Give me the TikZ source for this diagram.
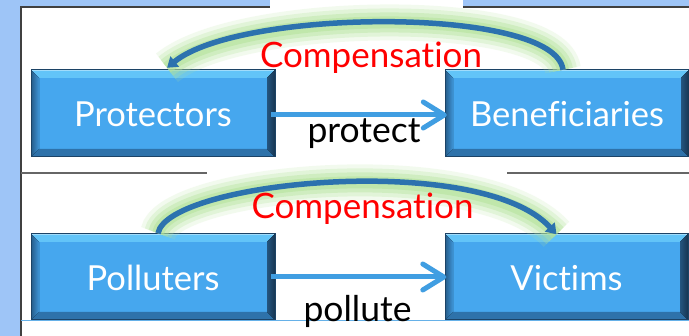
\documentclass[tikz,border=0pt]{standalone}
\usepackage{fontspec}
\setmainfont{Lato}[Ligatures=NoCommon]
\usetikzlibrary{arrows.meta,calc}
\definecolor{bgblue}{HTML}{9EC5F7}
\definecolor{boxface}{HTML}{46A7EE}
\definecolor{bevtop}{HTML}{62C4F8}
\definecolor{bevbot}{HTML}{2E72AA}
\definecolor{bevleft}{HTML}{3E95D8}
\definecolor{bevright}{HTML}{24557F}
\definecolor{edgedark}{HTML}{1C4366}
\definecolor{flatblue}{HTML}{409EE2}
\definecolor{curveblue}{HTML}{2C72AE}
\definecolor{glowgreen}{HTML}{B4E39A}
\definecolor{compred}{HTML}{FF0000}
\newcommand\bevelbox[4]{%
  \fill[boxface] (#1,#2) rectangle (#3,#4);
  \fill[bevtop] (#1,#4) -- (#3,#4) -- ({#3-8},{#4-8}) -- ({#1+8},{#4-8}) -- cycle;
  \fill[bevbot] (#1,#2) -- (#3,#2) -- ({#3-8},{#2+8}) -- ({#1+8},{#2+8}) -- cycle;
  \fill[left color=edgedark!70!bevleft, right color=bevleft] (#1,#2) -- (#1,#4) -- ({#1+8},{#4-8}) -- ({#1+8},{#2+8}) -- cycle;
  \fill[left color=bevright, right color=edgedark!80!black] (#3,#2) -- (#3,#4) -- ({#3-8},{#4-8}) -- ({#3-8},{#2+8}) -- cycle;
  \draw[edgedark, line width=1pt] (#1,#2) rectangle (#3,#4);
  \draw[bevtop!60!white, line width=0.6pt] ({#1+1},{#4-0.8}) -- ({#3-1},{#4-0.8});
}
\tikzset{
  boxlabel/.style={minimum width=244pt, minimum height=87pt, inner sep=0pt,
    text height=27pt, text depth=0pt, text=white, font=\fontsize{34.5}{34.5}\selectfont},
  flatarrow/.style={draw=flatblue, line width=5pt,
    -{Straight Barb[length=21pt,width=26pt,round]}},
  curvearrow/.style={draw=curveblue, line width=5.5pt,
    -{Triangle[length=10pt,width=13pt]}},
  glowA/.style={draw=glowgreen, line width=36pt, opacity=0.16},
  glowB/.style={draw=glowgreen, line width=28pt, opacity=0.26},
  glowC/.style={draw=glowgreen, line width=20pt, opacity=0.38},
  glowD/.style={draw=glowgreen, line width=12pt, opacity=0.55},
  comptext/.style={text=compred, inner sep=0pt, anchor=base, font=\fontsize{35}{35}\selectfont},
  verbtext/.style={text=black, inner sep=0pt, anchor=base, font=\fontsize{35.5}{35.5}\selectfont},
  frameline/.style={draw=black!75, line width=1.2pt},
  sepline/.style={draw=black!60, line width=1.3pt}
}
\begin{document}
\begin{tikzpicture}[x=1pt,y=1pt]
\useasboundingbox (0,0) rectangle (689,336);
\fill[white] (0,0) rectangle (689,336);
\fill[bgblue] (0,0) rectangle (21,336);
\fill[bgblue] (21,329) rectangle (689,336);
\fill[white] (270,329) rectangle (463,336);
\draw[frameline] (21,0) -- (21,329) -- (270,329);
\draw[frameline] (463,329) -- (689,329);
\draw[sepline] (21,163) -- (207,163);
\draw[sepline] (507,163) -- (689,163);
\draw[draw=flatblue!80, line width=0.8pt] (21,16) -- (689,16);

% boxes
\bevelbox{31}{179}{275}{266}
\bevelbox{445}{179}{689}{266}
\bevelbox{31}{16}{275}{102}
\bevelbox{445}{16}{688}{102}

\node[boxlabel] (pr) at (153,222.5) {Protectors};
\node[boxlabel] (be) at (567,222.5) {Beneficiaries};
\node[boxlabel] (po) at (153,59) {Polluters};
\node[boxlabel] (vi) at (566.5,59) {Victims};

% glows
\foreach \g in {glowA,glowB,glowC,glowD}{
  \path[\g] ([xshift=-4pt]be.north) .. controls (555,330) and (240,328) .. ([xshift=14pt,yshift=2pt]pr.north);
  \path[\g] ([xshift=5pt]po.north) .. controls (168,155) and (480,185) .. ([xshift=-10pt,yshift=-1pt]vi.north);
}

% curved arrows
\draw[curvearrow] ([xshift=-4pt]be.north) .. controls (555,330) and (240,328) .. ([xshift=14pt,yshift=2pt]pr.north);
\draw[curvearrow] ([xshift=5pt]po.north) .. controls (168,155) and (480,185) .. ([xshift=-10pt,yshift=-1pt]vi.north);

% straight arrows
\draw[flatarrow, shorten <=-4pt, shorten >=-2pt] ([yshift=-1.5pt]pr.east) -- ([yshift=-1.5pt]be.west);
\draw[flatarrow, shorten <=-4pt, shorten >=-2pt] (po.east) -- (vi.west);

% texts
\node[comptext] (c1) at (371,268) {Compensation};
\node[comptext] (c2) at (362.5,117) {Compensation};
\node[verbtext] (t1) at (364,193) {protect};
\node[verbtext] (t2) at (357.5,14) {pollute};
\end{tikzpicture}
\end{document}
